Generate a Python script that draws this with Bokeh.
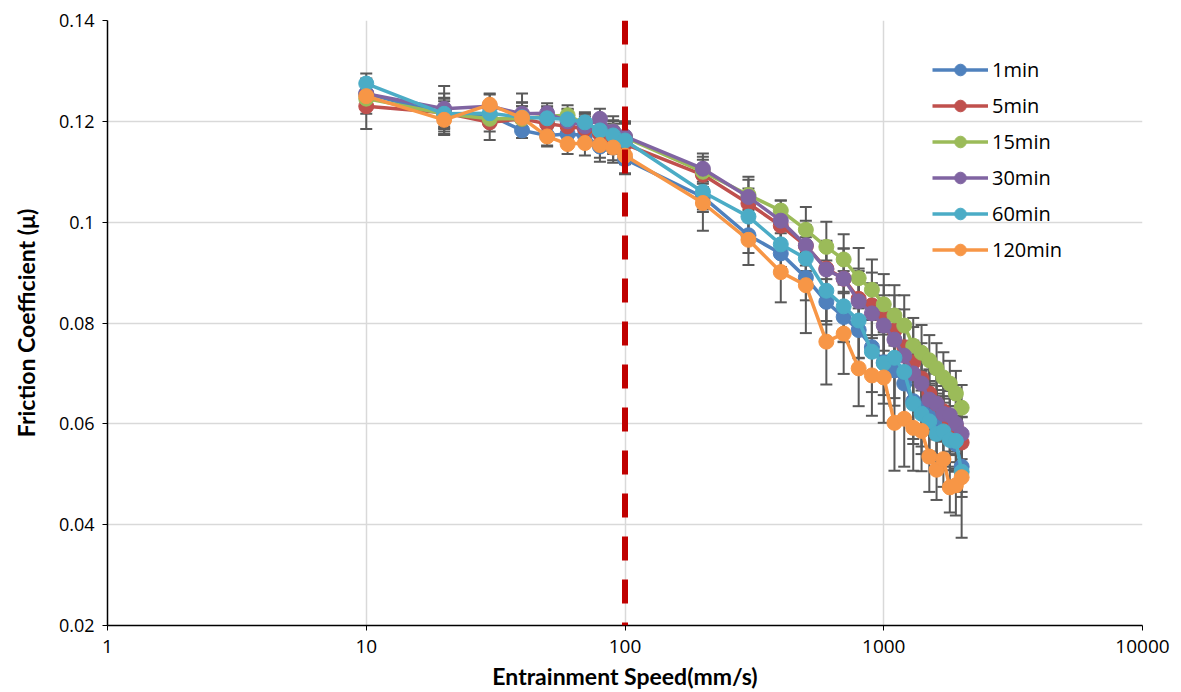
from bokeh.plotting import figure
from bokeh.models import (ColumnDataSource, Span, FixedTicker, CustomJSTickFormatter,
                          Legend, LegendItem, Range1d)
from bokeh.embed import file_html
from bokeh.resources import INLINE

speed = [10, 20, 30, 40, 50, 60, 70, 80, 90, 100, 200, 300, 400, 500, 600, 700, 800,
         900, 1000, 1100, 1200, 1300, 1400, 1500, 1600, 1700, 1800, 1900, 2000]

series_names = ["1min", "5min", "15min", "30min", "60min", "120min"]

mu_1min = [0.1255, 0.1215, 0.1212, 0.1182, 0.1172, 0.1175, 0.1172, 0.1150, 0.1148, 0.1125,
           0.1050, 0.0974, 0.0938, 0.0890, 0.0842, 0.0812, 0.0786, 0.0752, 0.0722, 0.0706,
           0.0680, 0.0645, 0.0630, 0.0615, 0.0597, 0.0590, 0.0575, 0.0560, 0.0515]
mu_5min = [0.1230, 0.1217, 0.1198, 0.1205, 0.1195, 0.1190, 0.1185, 0.1175, 0.1165, 0.1155,
           0.1094, 0.1037, 0.0993, 0.0953, 0.0908, 0.0888, 0.0848, 0.0835, 0.0810, 0.0785,
           0.0752, 0.0722, 0.0690, 0.0660, 0.0640, 0.0625, 0.0605, 0.0595, 0.0563]
mu_15min = [0.1245, 0.1215, 0.1205, 0.1205, 0.1210, 0.1212, 0.1195, 0.1182, 0.1180, 0.1168,
            0.1100, 0.1054, 0.1023, 0.0985, 0.0951, 0.0926, 0.0889, 0.0866, 0.0837, 0.0815,
            0.0795, 0.0755, 0.0741, 0.0726, 0.0710, 0.0692, 0.0680, 0.0660, 0.0632]
mu_30min = [0.1255, 0.1225, 0.1230, 0.1215, 0.1216, 0.1200, 0.1190, 0.1205, 0.1180, 0.1170,
            0.1106, 0.1050, 0.1003, 0.0954, 0.0906, 0.0888, 0.0843, 0.0819, 0.0795, 0.0767,
            0.0735, 0.0700, 0.0680, 0.0648, 0.0640, 0.0620, 0.0617, 0.0600, 0.0580]
mu_60min = [0.1275, 0.1215, 0.1216, 0.1208, 0.1206, 0.1204, 0.1198, 0.1182, 0.1172, 0.1162,
            0.1060, 0.1011, 0.0956, 0.0928, 0.0864, 0.0833, 0.0805, 0.0743, 0.0720, 0.0731,
            0.0703, 0.0640, 0.0620, 0.0605, 0.0580, 0.0585, 0.0568, 0.0566, 0.0505]
mu_120min = [0.1250, 0.1203, 0.1233, 0.1207, 0.1170, 0.1155, 0.1157, 0.1153, 0.1148, 0.1132,
             0.1038, 0.0965, 0.0901, 0.0875, 0.0763, 0.0779, 0.0710, 0.0696, 0.0692, 0.0602,
             0.0610, 0.0592, 0.0586, 0.0535, 0.0509, 0.0530, 0.0474, 0.0478, 0.0494]

err_1min = [0.0020, 0.0025, 0.0020, 0.0015, 0.0020, 0.0020, 0.0020, 0.0030, 0.0025, 0.0030,
            0.0030, 0.0035, 0.0040, 0.0045, 0.0045, 0.0050, 0.0055, 0.0060, 0.0065, 0.0070,
            0.0070, 0.0075, 0.0075, 0.0070, 0.0070, 0.0065, 0.0060, 0.0055, 0.0050]
err_5min = [0.0045, 0.0030, 0.0035, 0.0025, 0.0020, 0.0020, 0.0025, 0.0030, 0.0030, 0.0040,
            0.0030, 0.0030, 0.0030, 0.0050, 0.0055, 0.0060, 0.0060, 0.0065, 0.0065, 0.0070,
            0.0075, 0.0070, 0.0070, 0.0065, 0.0060, 0.0060, 0.0060, 0.0055, 0.0050]
err_15min = [0.0030, 0.0030, 0.0025, 0.0025, 0.0020, 0.0020, 0.0020, 0.0020, 0.0020, 0.0030,
             0.0030, 0.0030, 0.0020, 0.0045, 0.0050, 0.0050, 0.0060, 0.0060, 0.0060, 0.0060,
             0.0060, 0.0055, 0.0055, 0.0050, 0.0050, 0.0050, 0.0045, 0.0045, 0.0045]
err_30min = [0.0030, 0.0045, 0.0025, 0.0040, 0.0020, 0.0025, 0.0025, 0.0020, 0.0030, 0.0030,
             0.0030, 0.0040, 0.0040, 0.0040, 0.0055, 0.0060, 0.0060, 0.0060, 0.0060, 0.0060,
             0.0060, 0.0065, 0.0065, 0.0060, 0.0060, 0.0055, 0.0055, 0.0050, 0.0050]
err_60min = [0.0020, 0.0040, 0.0020, 0.0030, 0.0020, 0.0020, 0.0020, 0.0030, 0.0030, 0.0035,
             0.0035, 0.0040, 0.0045, 0.0050, 0.0060, 0.0070, 0.0075, 0.0080, 0.0080, 0.0080,
             0.0085, 0.0080, 0.0080, 0.0075, 0.0070, 0.0065, 0.0060, 0.0055, 0.0050]
err_120min = [0.0025, 0.0030, 0.0020, 0.0030, 0.0020, 0.0020, 0.0025, 0.0025, 0.0030, 0.0035,
              0.0055, 0.0050, 0.0060, 0.0095, 0.0085, 0.0080, 0.0075, 0.0080, 0.0090, 0.0095,
              0.0095, 0.0085, 0.0080, 0.0070, 0.0060, 0.0055, 0.0050, 0.0060, 0.0120]

colors = ["#4F81BD", "#C0504D", "#9BBB59", "#8064A2", "#4BACC6", "#F79646"]
threshold_speed = 100

x_ticks = [1, 10, 100, 1000, 10000]
y_ticks = [0.02, 0.04, 0.06, 0.08, 0.10, 0.12, 0.14]

values = [mu_1min, mu_5min, mu_15min, mu_30min, mu_60min, mu_120min]
errors = [err_1min, err_5min, err_15min, err_30min, err_60min, err_120min]

p = figure(width=1181, height=692, x_axis_type="log", output_backend="svg",
           toolbar_location=None, x_range=Range1d(1, 10000), y_range=Range1d(0.02, 0.14),
           min_border_left=107, min_border_right=39, min_border_top=20, min_border_bottom=67)
p.outline_line_color = None
p.background_fill_color = "white"
p.border_fill_color = "white"

font = "Open Sans"
for ax in (p.xaxis[0], p.yaxis[0]):
    ax.axis_line_color = "black"
    ax.axis_line_width = 1.5
    ax.major_tick_line_color = "black"
    ax.major_tick_in = 0
    ax.major_tick_out = 5
    ax.minor_tick_line_color = None
    ax.major_label_text_font = font
    ax.major_label_text_color = "black"
    ax.axis_label_text_font = "Lato"
    ax.axis_label_text_font_style = "bold"
    ax.axis_label_text_font_size = "23px"
    ax.axis_label_text_color = "black"

p.xaxis.ticker = FixedTicker(ticks=x_ticks)
p.xaxis.formatter = CustomJSTickFormatter(code="return String(Math.round(tick));")
p.xaxis.major_label_text_font_size = "19px"
p.xaxis.major_label_standoff = 9
p.xaxis.axis_label = "Entrainment Speed(mm/s)"
p.xaxis.axis_label_standoff = 6
p.yaxis.ticker = FixedTicker(ticks=y_ticks)
p.yaxis.formatter = CustomJSTickFormatter(code="return String(Math.round(tick*100)/100);")
p.yaxis.major_label_text_font_size = "18px"
p.yaxis.major_label_standoff = 8
p.yaxis.axis_label = "Friction Coefficient (\u03bc)"
p.yaxis.axis_label_standoff = 16

p.xgrid.grid_line_color = "#d9d9d9"
p.ygrid.grid_line_color = "#d9d9d9"
p.xgrid.grid_line_width = 1.5
p.ygrid.grid_line_width = 1.5
p.xgrid.ticker = FixedTicker(ticks=x_ticks)
p.ygrid.ticker = FixedTicker(ticks=y_ticks)

# error bars
for vals, errs in zip(values, errors):
    src = ColumnDataSource(dict(x=speed,
                                lo=[v - e for v, e in zip(vals, errs)],
                                hi=[v + e for v, e in zip(vals, errs)]))
    p.segment(x0="x", y0="lo", x1="x", y1="hi", source=src, line_color="#595959", line_width=2)
    p.scatter(x="x", y="lo", source=src, marker="dash", size=12, line_color="#595959", line_width=2)
    p.scatter(x="x", y="hi", source=src, marker="dash", size=12, line_color="#595959", line_width=2)

items = []
for name, vals, c in zip(series_names, values, colors):
    src = ColumnDataSource(dict(x=speed, y=vals))
    r1 = p.line("x", "y", source=src, line_color=c, line_width=3.5)
    r2 = p.scatter("x", "y", source=src, marker="circle", size=15, fill_color=c, line_color=c)
    items.append(LegendItem(label=name, renderers=[r1, r2]))

span = Span(location=threshold_speed, dimension="height", line_color="#C00000",
            line_width=6, line_dash="24 19")
p.add_layout(span)

legend = Legend(items=items, location=(825, 361), border_line_color=None,
                background_fill_alpha=0, glyph_width=56, glyph_height=29, label_height=29,
                label_text_font=font, label_text_font_size="20px", label_text_color="black",
                spacing=7, label_standoff=4, padding=6, margin=0)
p.add_layout(legend, "center")

open("out.html", "w").write(file_html(p, INLINE))
